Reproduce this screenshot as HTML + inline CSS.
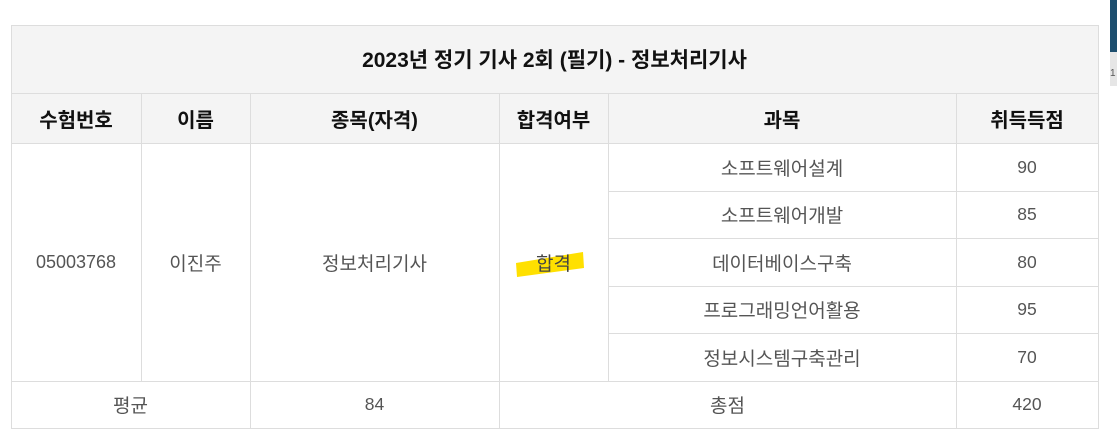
<!DOCTYPE html>
<html><head><meta charset="utf-8"><style>
body{margin:0;width:1117px;height:438px;background:#fff;position:relative;overflow:hidden;font-family:"Liberation Sans","Noto Sans CJK KR","NanumGothic",sans-serif;}
.c{position:absolute;display:flex;align-items:center;justify-content:center;box-sizing:border-box;color:#555;font-size:19px;}
.n{font-size:17.5px;}
.h{background:#f4f4f4;color:#111;font-weight:bold;font-size:20px;}
.l{position:absolute;background:#ddd;}
</style></head><body>
<div style="position:absolute;left:1110px;top:0;width:7px;height:52px;background:#1d4e6e"></div>
<div style="position:absolute;left:1110px;top:52px;width:7px;height:34px;background:#e6e6e6;font-size:10px;color:#555;line-height:44px;overflow:hidden">1</div>
<div>
<div class="c h" style="left:11px;top:25px;width:1087px;height:68px;font-size:21px">2023년 정기 기사 2회 (필기) - 정보처리기사</div>
<div class="c h" style="left:11px;top:93px;width:130px;height:50px">수험번호</div>
<div class="c h" style="left:141px;top:93px;width:109px;height:50px">이름</div>
<div class="c h" style="left:250px;top:93px;width:249px;height:50px">종목(자격)</div>
<div class="c h" style="left:499px;top:93px;width:109px;height:50px">합격여부</div>
<div class="c h" style="left:608px;top:93px;width:348px;height:50px">과목</div>
<div class="c h" style="left:956px;top:93px;width:142px;height:50px">취득득점</div>
<div class="c n" style="left:11px;top:143px;width:130px;height:238px;font-size:18px">05003768</div>
<div class="c" style="left:141px;top:143px;width:109px;height:238px">이진주</div>
<div class="c" style="left:250px;top:143px;width:249px;height:238px">정보처리기사</div>
<svg style="position:absolute;left:0;top:0" width="1117" height="438"><polygon points="516,263 583,252 584,268 517,277" fill="#ffe000"/></svg>
<div class="c" style="left:499px;top:143px;width:109px;height:238px;color:#444">합격</div>
<div class="c" style="left:608px;top:143px;width:348px;height:48px">소프트웨어설계</div>
<div class="c n" style="left:956px;top:143px;width:142px;height:48px">90</div>
<div class="c" style="left:608px;top:191px;width:348px;height:47px">소프트웨어개발</div>
<div class="c n" style="left:956px;top:191px;width:142px;height:47px">85</div>
<div class="c" style="left:608px;top:238px;width:348px;height:48px">데이터베이스구축</div>
<div class="c n" style="left:956px;top:238px;width:142px;height:48px">80</div>
<div class="c" style="left:608px;top:286px;width:348px;height:47px">프로그래밍언어활용</div>
<div class="c n" style="left:956px;top:286px;width:142px;height:47px">95</div>
<div class="c" style="left:608px;top:333px;width:348px;height:48px">정보시스템구축관리</div>
<div class="c n" style="left:956px;top:333px;width:142px;height:48px">70</div>
<div class="c" style="left:11px;top:381px;width:239px;height:47px">평균</div>
<div class="c n" style="left:250px;top:381px;width:249px;height:47px">84</div>
<div class="c" style="left:499px;top:381px;width:457px;height:47px">총점</div>
<div class="c n" style="left:956px;top:381px;width:142px;height:47px">420</div>
<div class="l" style="left:11px;top:25px;width:1088px;height:1px"></div>
<div class="l" style="left:11px;top:93px;width:1088px;height:1px"></div>
<div class="l" style="left:11px;top:143px;width:1088px;height:1px"></div>
<div class="l" style="left:608px;top:191px;width:491px;height:1px"></div>
<div class="l" style="left:608px;top:238px;width:491px;height:1px"></div>
<div class="l" style="left:608px;top:286px;width:491px;height:1px"></div>
<div class="l" style="left:608px;top:333px;width:491px;height:1px"></div>
<div class="l" style="left:11px;top:381px;width:1088px;height:1px"></div>
<div class="l" style="left:11px;top:428px;width:1088px;height:1px"></div>
<div class="l" style="left:11px;top:25px;width:1px;height:404px"></div>
<div class="l" style="left:1098px;top:25px;width:1px;height:404px"></div>
<div class="l" style="left:141px;top:93px;width:1px;height:288px"></div>
<div class="l" style="left:250px;top:93px;width:1px;height:336px"></div>
<div class="l" style="left:499px;top:93px;width:1px;height:336px"></div>
<div class="l" style="left:608px;top:93px;width:1px;height:288px"></div>
<div class="l" style="left:956px;top:93px;width:1px;height:336px"></div>
</div>
</body></html>
